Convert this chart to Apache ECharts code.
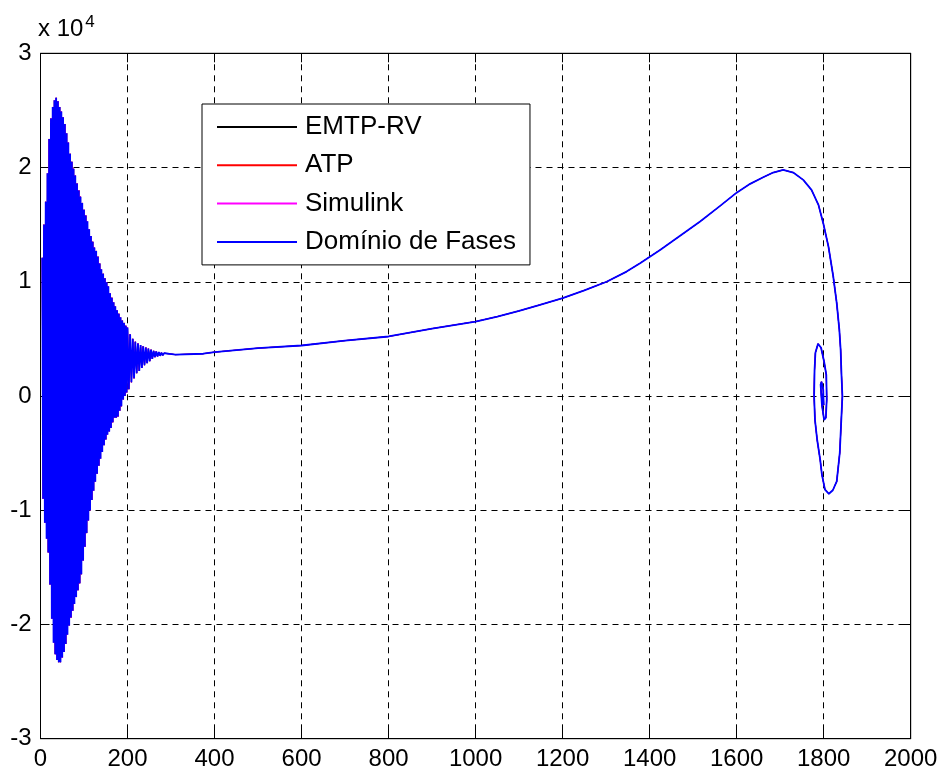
<!DOCTYPE html>
<html>
<head>
<meta charset="utf-8">
<script src="https://cdn.jsdelivr.net/npm/echarts@6/dist/echarts.min.js"></script>
<style>
html,body{margin:0;padding:0;background:#fff;}
#chart{width:944px;height:778px;}
</style>
</head>
<body>
<div id="chart"></div>
<script>
// ---- data (x, y) ----
const seriesNames = ['EMTP-RV', 'ATP', 'Simulink', 'Domínio de Fases'];
const seriesColors = ['#000000', '#ff0000', '#ff00ff', '#0000ff'];
const xTicks = [0, 200, 400, 600, 800, 1000, 1200, 1400, 1600, 1800, 2000];
const yTicks = [-3, -2, -1, 0, 1, 2, 3];

// maxima of the fast oscillation (left part)
const oscTop = [[4,12100],[8,15000],[12,17000],[16,19500],[20,22500],[24,24300],[28,25300],[32,25900],[36,26100],[40,25800],[44,25300],[48,24900],[52,24400],[56,23800],[60,23000],[64,22200],[68,21200],[72,20500],[76,19900],[80,19300],[84,18600],[88,18000],[92,17450],[96,16900],[100,16300],[104,15800],[108,15300],[112,14600],[116,14000],[120,13500],[124,13000],[128,12700],[132,12200],[136,11600],[140,11100],[144,10700],[148,10300],[152,9950],[156,9600],[160,9000],[164,8600],[168,8200],[172,7850],[176,7500],[180,7200],[184,6900],[188,6600],[192,6400],[196,6150],[200,6000],[206,5400],[212,5000],[218,4750],[224,4600],[230,4450],[236,4350],[242,4250],[248,4150],[254,4050],[260,3950],[266,3900],[272,3850],[278,3800],[284,3750],[290,3720],[296,3690],[302,3660]];
// minima of the fast oscillation
const oscBottom = [[6,-9000],[10,-11100],[14,-12500],[18,-13700],[22,-16500],[26,-19500],[30,-21600],[34,-22600],[38,-23100],[42,-23300],[46,-23300],[50,-22900],[54,-22400],[58,-21700],[62,-20900],[66,-20100],[70,-19400],[74,-18800],[78,-18200],[82,-17600],[86,-17000],[90,-16400],[94,-15600],[98,-14400],[102,-13200],[106,-12000],[110,-10900],[114,-10000],[118,-9100],[122,-8300],[126,-7500],[130,-6800],[134,-6100],[138,-5500],[142,-4900],[146,-4300],[150,-3800],[154,-3400],[158,-3100],[162,-2800],[166,-2300],[170,-1900],[174,-1900],[178,-1800],[182,-1300],[186,-900],[190,-300],[194,0],[198,300],[203,600],[209,1200],[215,1550],[221,2000],[227,2200],[233,2450],[239,2700],[245,2880],[251,3050],[257,3250],[263,3400],[269,3460],[275,3520],[281,3560],[287,3590],[293,3600],[299,3610],[305,3620]];
// slow drift to the right, the big arc and the final spiral
const driftPath = [[310,3620],[374,3700],[400,3840],[500,4190],[600,4420],[700,4850],[800,5210],[900,5900],[1000,6520],[1050,6950],[1100,7450],[1148,7980],[1200,8560],[1250,9250],[1301,10000],[1347,10890],[1378,11630],[1424,12790],[1470,14020],[1516,15270],[1562,16640],[1600,17800],[1631,18570],[1661,19150],[1684,19560],[1707,19790],[1730,19560],[1753,18920],[1772,18040],[1788,16730],[1799,15130],[1811,13080],[1822,10460],[1830,8130],[1836,5790],[1839,4040],[1841,1770],[1843,0],[1841,-1650],[1837,-4970],[1830,-7480],[1821,-8250],[1812,-8560],[1803,-8200],[1796,-6900],[1792,-5600],[1785,-3830],[1780,-2100],[1778,0],[1779,2260],[1781,3780],[1787,4570],[1794,4220],[1801,3000],[1806,1850],[1807,-300],[1805,-1900],[1801,-2100],[1796,-800],[1793,1000],[1795,1250],[1799,550],[1800,-800],[1797,-150],[1799,200]];

// ---- build the trajectory in time order ----
const trajectory = oscTop.concat(oscBottom).sort((a, b) => a[0] - b[0]).concat(driftPath);

const chart = echarts.init(document.getElementById('chart'), null, {renderer: 'canvas'});
const tickFont = "'Liberation Sans',Arial,sans-serif";
const gridStyle = {show: true, lineStyle: {color: '#000', width: 1, type: [6, 5]}};

const option = {
  animation: false,
  backgroundColor: '#fff',
  grid: {left: 40.5, right: 33.3, top: 53.3, bottom: 39.3, show: true, borderColor: '#000', borderWidth: 1, backgroundColor: '#fff'},
  graphic: [{
    type: 'text', left: 38, top: 14, z: 100,
    style: {text: 'x 10{s|4}', font: "24px 'Liberation Sans', Arial, sans-serif", fill: '#000',
      rich: {s: {fontSize: 17, fontFamily: "'Liberation Sans', Arial", verticalAlign: 'top', padding: [0,0,14,2]}}}
  }],
  legend: {
    orient: 'vertical', left: 202, top: 104,
    backgroundColor: '#fff', borderColor: '#000', borderWidth: 1,
    padding: [8, 14, 8, 15], itemGap: 8.3, itemWidth: 80, itemHeight: 2,
    icon: 'rect',
    textStyle: {fontFamily: "'Liberation Sans', Arial, sans-serif", fontSize: 26, color: '#000', lineHeight: 30, padding: [0, 0, 0, 3]},
    data: seriesNames
  },
  xAxis: [{
    type: 'value', min: xTicks[0], max: xTicks[xTicks.length - 1], interval: 200, position: 'bottom',
    axisLine: {show: true, onZero: false, lineStyle: {color: '#000', width: 1}},
    axisTick: {show: true, inside: true, length: 9, lineStyle: {color: '#000'}},
    axisLabel: {margin: 9, color: '#000', fontSize: 24, fontFamily: tickFont, formatter: v => String(v)},
    splitLine: gridStyle
  }, {
    type: 'value', min: xTicks[0], max: xTicks[xTicks.length - 1], interval: 200, position: 'top',
    axisLine: {show: true, onZero: false, lineStyle: {color: '#000', width: 1}},
    axisTick: {show: true, inside: true, length: 9, lineStyle: {color: '#000'}},
    axisLabel: {show: false}, splitLine: {show: false}
  }],
  yAxis: [{
    type: 'value', min: yTicks[0] * 1e4, max: yTicks[yTicks.length - 1] * 1e4, interval: 10000, position: 'left',
    axisLine: {show: true, onZero: false, lineStyle: {color: '#000', width: 1}},
    axisTick: {show: true, inside: true, length: 9, lineStyle: {color: '#000'}},
    axisLabel: {margin: 9, color: '#000', fontSize: 24, fontFamily: tickFont, formatter: v => String(Math.round(v / 1e4))},
    splitLine: gridStyle
  }, {
    type: 'value', min: yTicks[0] * 1e4, max: yTicks[yTicks.length - 1] * 1e4, interval: 10000, position: 'right',
    axisLine: {show: true, onZero: false, lineStyle: {color: '#000', width: 1}},
    axisTick: {show: true, inside: true, length: 9, lineStyle: {color: '#000'}},
    axisLabel: {show: false}, splitLine: {show: false}
  }],
  series: seriesNames.map((name, i) => ({
    name: name, type: 'line', data: trajectory, xAxisIndex: 0, yAxisIndex: 0,
    showSymbol: false, symbol: 'none', sampling: null, clip: true,
    color: seriesColors[i],
    lineStyle: {color: seriesColors[i], width: i === 3 ? 1.8 : 1},
    z: 2 + i
  }))
};
chart.setOption(option);
</script>
</body>
</html>
